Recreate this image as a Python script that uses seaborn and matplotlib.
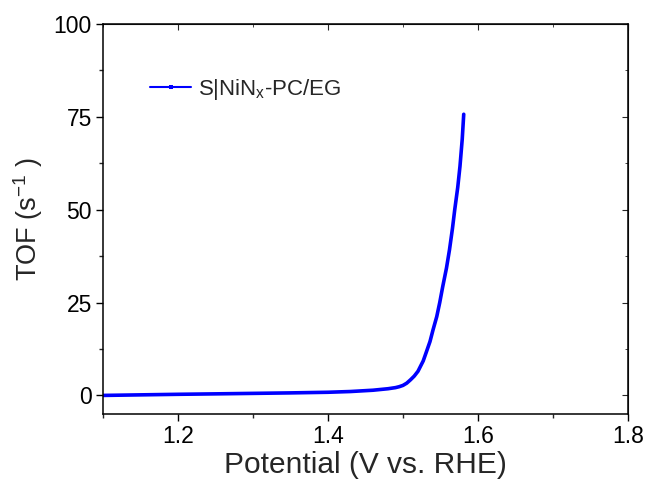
import matplotlib
matplotlib.use("Agg")
import matplotlib.pyplot as plt
import seaborn as sns
import pandas as pd
from matplotlib.ticker import MultipleLocator

potential = [1.10, 1.15, 1.20, 1.25, 1.30, 1.35, 1.40, 1.43, 1.46, 1.48, 1.49, 1.495, 1.50,
             1.505, 1.51, 1.515, 1.52, 1.527, 1.531, 1.536, 1.540, 1.545, 1.549, 1.553,
             1.558, 1.562, 1.566, 1.569, 1.573, 1.576, 1.579, 1.581]
tof = [0.0, 0.15, 0.3, 0.42, 0.55, 0.68, 0.85, 1.05, 1.4, 1.8, 2.1, 2.35, 2.7,
       3.3, 4.2, 5.2, 6.5, 9.3, 11.6, 14.5, 17.6, 21.2, 25.0, 29.3,
       34.3, 39.2, 45.0, 50.0, 56.0, 61.7, 69.0, 75.7]
series_name = "S|NiN$_x$-PC/EG"
x_ticks = [1.2, 1.4, 1.6, 1.8]
y_ticks = [0, 25, 50, 75, 100]

sns.set_style("ticks")
plt.rcParams["font.family"] = ["Liberation Sans", "DejaVu Sans"]
plt.rcParams["mathtext.fontset"] = "custom"
plt.rcParams["mathtext.rm"] = "Liberation Sans"
plt.rcParams["mathtext.it"] = "Liberation Sans"
plt.rcParams["mathtext.default"] = "regular"

df = pd.DataFrame({"Potential": potential, "TOF": tof, "series": series_name})

fig = plt.figure(figsize=(6.49, 4.82), dpi=100)
ax = fig.add_axes([0.1587, 0.1411, 0.8089, 0.8091])

sns.lineplot(data=df, x="Potential", y="TOF", hue="series", palette=["#0000ff"],
             linewidth=2.6, sort=False, ax=ax)

ax.set_xlim(1.1, 1.8)
ax.set_ylim(-5, 100)
ax.set_xticks(x_ticks)
ax.set_yticks(y_ticks)
ax.xaxis.set_minor_locator(MultipleLocator(0.1))
ax.yaxis.set_minor_locator(MultipleLocator(12.5))
ax.tick_params(which="major", direction="out", length=5, width=1, labelsize=16.5,
               colors="black", pad=3)
ax.tick_params(which="minor", direction="out", length=3, width=1)
for s in ax.spines.values():
    s.set_linewidth(1.1)
    s.set_color("black")

top = ax.secondary_xaxis("top")
top.set_xticks(x_ticks)
top.xaxis.set_minor_locator(MultipleLocator(0.1))
top.tick_params(which="major", direction="in", length=4, labeltop=False)
top.tick_params(which="minor", direction="in", length=2.5)
right = ax.secondary_yaxis("right")
right.set_yticks(y_ticks)
right.yaxis.set_minor_locator(MultipleLocator(12.5))
right.tick_params(which="major", direction="in", length=4, labelright=False)
right.tick_params(which="minor", direction="in", length=2.5)

ax.set_xlabel("Potential (V vs. RHE)", fontsize=21.5, labelpad=2)
ax.set_ylabel("TOF (s$^{-1}$ )", fontsize=19.5, labelpad=6)

leg = ax.legend(loc="center left", bbox_to_anchor=(0.0895, 0.833), frameon=False,
                fontsize=16, handlelength=1.85, handletextpad=0.3, borderpad=0,
                borderaxespad=0, numpoints=1, title=None)
for h in leg.legend_handles:
    h.set_linewidth(1.5)
    h.set_marker("s")
    h.set_markersize(2.5)
    h.set_markeredgewidth(0)

fig.savefig("out.png", dpi=100)
